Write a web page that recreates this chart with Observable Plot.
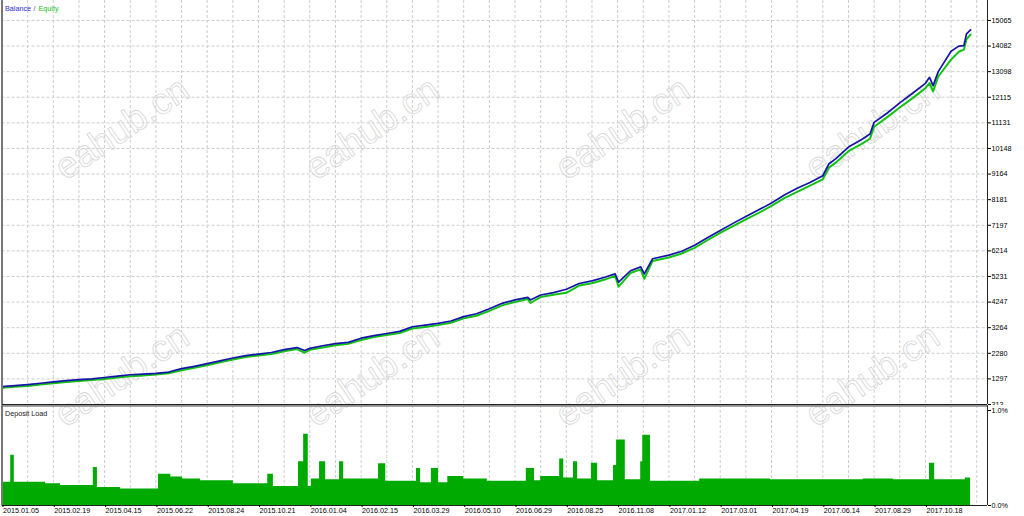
<!DOCTYPE html>
<html>
<head>
<meta charset="utf-8">
<script src="https://cdn.jsdelivr.net/npm/d3@7"></script>
<script src="https://cdn.jsdelivr.net/npm/@observablehq/plot@0.6"></script>
<style>
  body { margin: 0; background: white; }
  #wrap { position: relative; width: 1024px; height: 516px; overflow: hidden; background: white; }
  #load { position: absolute; left: 0; top: 404px; }
  #main { position: absolute; left: 0; top: 0; }
</style>
</head>
<body>
<div id="wrap">
  <div id="load"></div>
  <div id="main"></div>
</div>
<script>
"use strict";

// balance / equity curve, x is trade number
const trades = [0, 25, 50, 75, 100, 125, 150, 175, 200, 225, 250, 275, 300, 325, 350, 375, 400, 425, 450, 475,
   500, 525, 550, 575, 590, 600, 625, 650, 675, 700, 725, 750, 775, 800, 825, 850, 875, 900, 925, 950,
   975, 1000, 1025, 1030, 1050, 1075, 1100, 1125, 1150, 1175, 1195, 1202, 1225, 1245, 1252, 1268, 1300, 1325, 1350, 1375,
   1400, 1425, 1450, 1475, 1500, 1525, 1550, 1575, 1600, 1612, 1625, 1650, 1675, 1692, 1700, 1725, 1750, 1775, 1800, 1808,
   1815, 1825, 1850, 1865, 1875, 1880, 1888]
const balance = [1000, 1040, 1080, 1130, 1180, 1230, 1265, 1300, 1350, 1400, 1455, 1480, 1510, 1560, 1690, 1780, 1880, 1990, 2100, 2190,
   2250, 2310, 2420, 2500, 2390, 2470, 2570, 2650, 2700, 2860, 2960, 3040, 3120, 3300, 3360, 3430, 3520, 3690, 3800, 3990,
   4200, 4330, 4430, 4330, 4520, 4610, 4740, 4960, 5060, 5200, 5330, 5010, 5450, 5600, 5330, 5910, 6050, 6200, 6430, 6720,
   7000, 7270, 7530, 7790, 8050, 8360, 8620, 8840, 9100, 9560, 9750, 10200, 10480, 10700, 11150, 11500, 11900, 12270, 12650, 12880,
   12560, 13100, 13880, 14080, 14100, 14550, 14700]
const equity = [995, 1030, 1060, 1120, 1170, 1220, 1255, 1290, 1335, 1390, 1440, 1470, 1500, 1550, 1670, 1765, 1860, 1975, 2080, 2175,
   2235, 2290, 2400, 2480, 2340, 2450, 2540, 2630, 2680, 2830, 2940, 3020, 3100, 3270, 3330, 3400, 3490, 3660, 3760, 3950,
   4160, 4290, 4400, 4250, 4480, 4570, 4640, 4920, 5010, 5150, 5290, 4880, 5400, 5540, 5180, 5860, 6000, 6150, 6370, 6660,
   6940, 7200, 7460, 7710, 7980, 8280, 8520, 8760, 9000, 9450, 9640, 10080, 10350, 10560, 11020, 11380, 11760, 12120, 12500, 12700,
   12380, 12950, 13600, 13900, 13980, 14380, 14560]

// deposit load (%), step values starting at trade number
const loadTrades = [1, 17, 24, 85, 114, 178, 186, 231, 305, 329, 352, 387, 451, 518, 529, 578, 588, 597, 603, 619,
   631, 658, 666, 734, 748, 808, 816, 837, 851, 869, 900, 946, 1022, 1038, 1050, 1087, 1095, 1114, 1122, 1149,
   1161, 1192, 1198, 1215, 1245, 1249, 1264, 1360, 1498, 1679, 1738, 1808, 1818, 1878, 1888]
const loadPct = [0.245, 0.53, 0.245, 0.23, 0.21, 0.40, 0.19, 0.175, 0.33, 0.30, 0.28, 0.26, 0.23, 0.33, 0.20, 0.46, 0.75, 0.20, 0.28, 0.46,
   0.27, 0.46, 0.28, 0.44, 0.256, 0.39, 0.24, 0.39, 0.24, 0.305, 0.28, 0.255, 0.39, 0.26, 0.305, 0.49, 0.29, 0.46, 0.28, 0.445,
   0.26, 0.42, 0.69, 0.27, 0.46, 0.74, 0.255, 0.28, 0.27, 0.28, 0.27, 0.445, 0.27, 0.29, 0.29]

// axes
const yTicks = [313, 1297, 2280, 3264, 4247, 5231, 6214, 7197, 8181, 9164, 10148, 11131, 12115, 13098, 14082, 15065]
const dateTicks = [0, 100, 200, 300, 400, 500, 600, 700, 800, 900, 1000, 1100, 1200, 1300, 1400, 1500, 1600, 1700, 1800]
const dateLabels = ["2015.01.05", "2015.02.19", "2015.04.15", "2015.06.22", "2015.08.24", "2015.10.21", "2016.01.04",
   "2016.02.15", "2016.03.29", "2016.05.10", "2016.06.29", "2016.08.25", "2016.11.08", "2017.01.12", "2017.03.01",
   "2017.04.19", "2017.06.14", "2017.08.29", "2017.10.18"]
const loadTicks = [0, 1]

// watermark
const wmTrades = [234, 722, 1210, 1697]
const wmMainRows = [10914, 1427]
const wmLoadRow = 1.368

const xMax = 1921
const yMin = 313
const yMax = 15831
const loadMax = 1.0526
const gridTrades = d3.range(50, xMax, 50)

const curve = trades.map((t, i) => ({t: t, balance: balance[i], equity: equity[i]}))
const load = loadTrades.map((t, i) => ({t: t, pct: loadPct[i]}))
const wmMain = wmMainRows.flatMap(v => wmTrades.map(t => ({t: t, v: v})))
const wmLoad = wmTrades.map(t => ({t: t, v: wmLoadRow}))

const font = "'Liberation Sans', Arial, sans-serif"
const grid = {stroke: "#cdcdcd", strokeOpacity: 1, strokeDasharray: "3,2"}
const wmStyle = {text: () => "eahub.cn", rotate: -34, fontSize: 37, fill: "none", stroke: "#d6d6d6", strokeWidth: 0.8, fontFamily: font}

const main_plot = Plot.plot({
   "width": 1024,
   "height": 405,
   "marginLeft": 1.5,
   "marginRight": 37,
   "marginTop": 0,
   "marginBottom": 1,
   "style": {"fontFamily": font, "fontSize": "7.2px", "background": "white", "color": "black"},
   "x": {"domain": [0, xMax], "axis": null, "label": null},
   "y": {"domain": [yMin, yMax], "axis": null, "label": null},
   "marks": [
      Plot.ruleX(gridTrades, grid),
      Plot.ruleY(yTicks.slice(1), grid),
      Plot.text(wmMain, {x: "t", y: "v", ...wmStyle}),
      Plot.line(curve, {x: "t", y: "equity", stroke: "#12c212", strokeWidth: 2, dy: 1}),
      Plot.line(curve, {x: "t", y: "balance", stroke: "#1414a8", strokeWidth: 1.7}),
      Plot.ruleX([0], {stroke: "#777", strokeWidth: 2}),
      Plot.ruleX([xMax], {stroke: "#222", strokeWidth: 1}),
      Plot.ruleY([yMin], {stroke: "#222", strokeWidth: 1}),
      Plot.axisY(yTicks, {anchor: "right", tickSize: 3, tickPadding: 1, textAnchor: "start",
         tickFormat: d => `${d}`, fontSize: 7.2, label: null}),
      Plot.text(["Balance"], {frameAnchor: "top-left", dx: 3, dy: 5, fill: "#2a2ad0", textAnchor: "start", fontSize: 7.2}),
      Plot.text(["/"], {frameAnchor: "top-left", dx: 31.5, dy: 5, fill: "#555", textAnchor: "start", fontSize: 7.2}),
      Plot.text(["Equity"], {frameAnchor: "top-left", dx: 36.5, dy: 5, fill: "#20c020", textAnchor: "start", fontSize: 7.2})
   ]
})

const load_plot = Plot.plot({
   "width": 1024,
   "height": 112,
   "marginLeft": 1.5,
   "marginRight": 37,
   "marginTop": 1,
   "marginBottom": 11,
   "style": {"fontFamily": font, "fontSize": "7.2px", "background": "white", "color": "black"},
   "x": {"domain": [0, xMax], "axis": null, "label": null},
   "y": {"domain": [0, loadMax], "axis": null, "label": null},
   "marks": [
      Plot.ruleX(gridTrades, grid),
      Plot.text(wmLoad, {x: "t", y: "v", ...wmStyle}),
      Plot.areaY(load, {x: "t", y: "pct", curve: "step-after", fill: "#00aa00"}),
      Plot.ruleY([loadMax], {stroke: "#8a8a8a", strokeWidth: 2.5}),
      Plot.ruleX([0], {stroke: "#777", strokeWidth: 2}),
      Plot.ruleX([xMax], {stroke: "#222", strokeWidth: 1}),
      Plot.ruleY([0], {stroke: "#222", strokeWidth: 1}),
      Plot.axisY(loadTicks, {anchor: "right", tickSize: 3, tickPadding: 1, textAnchor: "start",
         tickFormat: d => d.toFixed(1) + "%", fontSize: 7.2, label: null}),
      Plot.axisX(dateTicks, {anchor: "bottom", tickSize: 2, tickPadding: 0, textAnchor: "start", dx: 1,
         tickFormat: d => dateLabels[dateTicks.indexOf(d)], fontSize: 7.2, label: null}),
      Plot.text(["Deposit Load"], {frameAnchor: "top-left", dx: 3, dy: 5, fill: "#222", textAnchor: "start", fontSize: 7.2})
   ]
})

document.querySelector("#main").append(main_plot)
document.querySelector("#load").append(load_plot)
</script>
</body>
</html>
